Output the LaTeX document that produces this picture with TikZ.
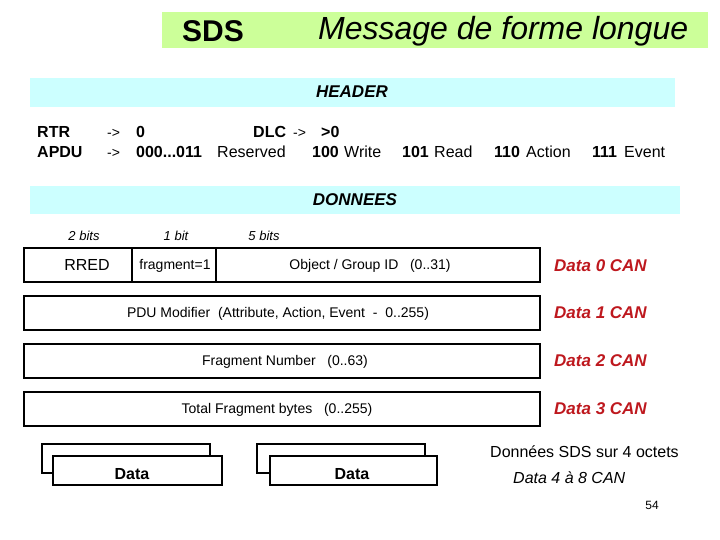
\documentclass[tikz,border=0pt]{standalone}
\usepackage{fontspec}
\setmainfont{Liberation Sans}
\definecolor{titlegreen}{RGB}{204,255,153}
\definecolor{barcyan}{RGB}{204,255,255}
\definecolor{canred}{RGB}{190,24,30}
\newcommand{\fsz}[1]{\fontsize{#1}{#1}\selectfont}
\begin{document}
\begin{tikzpicture}[x=1pt,y=-1pt,
  txt/.style={inner sep=0pt,anchor=west},
  btxt/.style={inner sep=0pt,anchor=base west},
  ctxt/.style={inner sep=0pt},
  cell/.style={draw,line width=2.3pt,inner sep=0pt},
  hdr/.style={btxt,font=\fsz{16}},
  hdrb/.style={btxt,font=\fsz{16}\bfseries},
  arr/.style={btxt,font=\fsz{14}},
  boxtxt/.style={ctxt,font=\fsz{14}},
  bits/.style={ctxt,font=\fsz{13}\itshape},
  canlbl/.style={txt,font=\fsz{17}\bfseries\itshape,text=canred},
  bartitle/.style={ctxt,font=\fsz{17}\bfseries\itshape}]
\useasboundingbox (0,0) rectangle (720,540);
% title
\fill[titlegreen] (162,12) rectangle (708,48);
\node[txt,font=\fsz{30}\bfseries] (sds) at (182,31) {SDS};
\node[txt,font=\fsz{32}\itshape] (msg) at (318,31) {Message de forme longue};
% header bar
\fill[barcyan] (30,78) rectangle (675,107);
\node[bartitle] (header) at (352,92) {HEADER};
% header rows
\node[hdrb] (rtr) at (37,138) {RTR};
\node[arr] (a1) at (107,138) {->};
\node[hdrb] (z0) at (136,138) {0};
\node[hdrb] (dlc) at (253,138) {DLC};
\node[arr] (a2) at (293,138) {->};
\node[hdrb] (gt0) at (321,138) {>0};
\node[hdrb] (apdu) at (37,158) {APDU};
\node[arr] (a3) at (107,158) {->};
\node[hdrb] (r0) at (136,158) {000...011};
\node[hdr] (res) at (217,158) {Reserved};
\node[hdrb] (c100) at (312,158) {100};
\node[hdr] (wr) at (344,158) {Write};
\node[hdrb] (c101) at (402,158) {101};
\node[hdr] (rd) at (434,158) {Read};
\node[hdrb] (c110) at (494,158) {110};
\node[hdr] (act) at (526,158) {Action};
\node[hdrb] (c111) at (592,158) {111};
\node[hdr] (ev) at (624,158) {Event};
% donnees bar
\fill[barcyan] (30,186) rectangle (680,214);
\node[bartitle] (donnees) at (355,200) {DONNEES};
% bits labels
\node[bits] (b2) at (84,236) {2 bits};
\node[bits] (b1) at (176,236) {1 bit};
\node[bits] (b5) at (264,236) {5 bits};
% row 0
\node[cell,minimum width=108pt,minimum height=34pt] (rred) at (78,265) {};
\node[cell,minimum width=84pt,minimum height=34pt] (frag) at (174,265) {};
\node[cell,minimum width=324pt,minimum height=34pt] (obj) at (378,265) {};
\node[ctxt,font=\fsz{16}] (rredt) at (87,265) {RRED};
\node[boxtxt] (fragt) at (175,266) {fragment=1};
\node[boxtxt] (objt) at (370,266) {Object / Group ID~~~(0..31)};
% rows 1-3
\node[cell,minimum width=516pt,minimum height=34pt] (pdu) at (282,313) {};
\node[boxtxt] (pdut) at (278,314) {PDU Modifier~~(Attribute, Action, Event~~-~~0..255)};
\node[cell,minimum width=516pt,minimum height=34pt] (fnum) at (282,361) {};
\node[boxtxt] (fnumt) at (285,362) {Fragment Number~~~(0..63)};
\node[cell,minimum width=516pt,minimum height=34pt] (tot) at (282,409) {};
\node[boxtxt] (tott) at (277,410) {Total Fragment bytes~~~(0..255)};
% CAN labels
\node[canlbl] (d0) at (554,266) {Data 0 CAN};
\node[canlbl] (d1) at (554,313) {Data 1 CAN};
\node[canlbl] (d2) at (554,361) {Data 2 CAN};
\node[canlbl] (d3) at (554,409) {Data 3 CAN};
% bottom stacked boxes
\node[cell,minimum width=168pt,minimum height=29pt] (back1) at (126,458.5) {};
\node[cell,fill=white,minimum width=169pt,minimum height=29pt] (front1) at (137.5,470.5) {};
\node[ctxt,font=\fsz{16}\bfseries] (data1) at (132,474) {Data};
\node[cell,minimum width=168pt,minimum height=29pt] (back2) at (341,458.5) {};
\node[cell,fill=white,minimum width=167pt,minimum height=29pt] (front2) at (353.5,470.5) {};
\node[ctxt,font=\fsz{16}\bfseries] (data2) at (352,474) {Data};
% right notes
\node[txt,font=\fsz{16}] (sdsoct) at (490,452) {Données SDS sur 4 octets};
\node[txt,font=\fsz{16}\itshape] (d48) at (513,478) {Data 4 à 8 CAN};
\node[ctxt,font=\fsz{12}] (pg) at (652,505) {54};
\end{tikzpicture}
\end{document}
